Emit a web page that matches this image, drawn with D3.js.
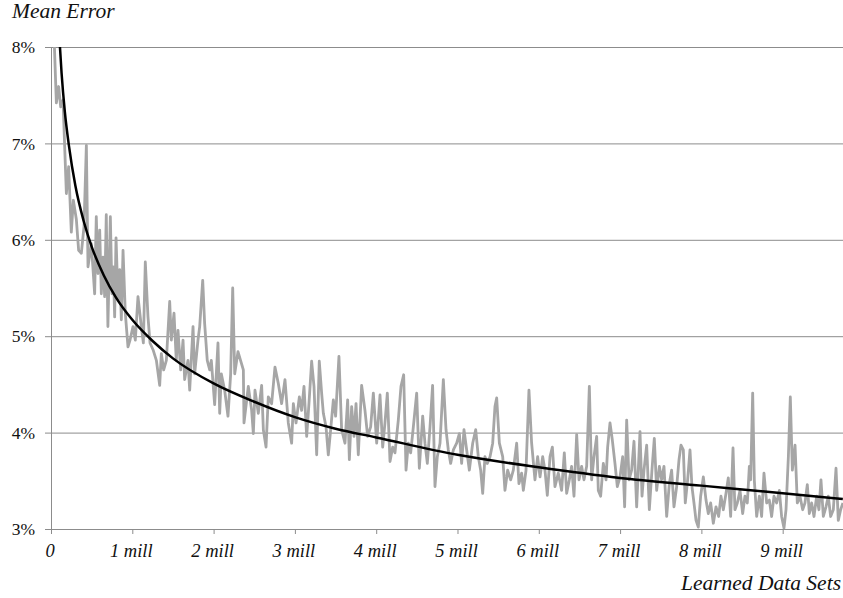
<!DOCTYPE html>
<html>
<head>
<meta charset="utf-8">
<script src="https://cdn.jsdelivr.net/npm/d3@7"></script>
<style>
  body { margin: 0; background: #fff; }
  svg text { font-family: "Liberation Serif", "Times New Roman", serif; fill: #111; }
</style>
</head>
<body>
<svg id="chart" width="843" height="598"></svg>
<script>
// learned data sets (millions) and measured mean error (%)
const sampleMill = [
  0.04, 0.066, 0.094, 0.119, 0.148, 0.168, 0.189, 0.217, 0.25, 0.275, 0.312, 0.34, 0.373, 0.406, 0.435, 0.455,
  0.496, 0.537, 0.557, 0.578, 0.599, 0.619, 0.64, 0.66, 0.68, 0.70, 0.73, 0.75, 0.766, 0.783, 0.80, 0.824,
  0.845, 0.865, 0.886, 0.914, 0.947, 0.972, 1.009, 1.037, 1.07, 1.111, 1.136, 1.16, 1.193, 1.218, 1.255, 1.296,
  1.337, 1.357, 1.386, 1.419, 1.46, 1.48, 1.513, 1.541, 1.562, 1.595, 1.624, 1.644, 1.685, 1.706, 1.747, 1.767,
  1.808, 1.829, 1.866, 1.89, 1.922, 1.952, 1.972, 2.013, 2.054, 2.075, 2.095, 2.136, 2.177, 2.21, 2.235, 2.26,
  2.30, 2.366, 2.374, 2.427, 2.468, 2.489, 2.509, 2.55, 2.591, 2.612, 2.645, 2.673, 2.714, 2.755, 2.796, 2.837,
  2.878, 2.919, 2.96, 2.981, 3.014, 3.055, 3.083, 3.112, 3.145, 3.173, 3.206, 3.235, 3.268, 3.30, 3.329, 3.35,
  3.383, 3.411, 3.44, 3.473, 3.501, 3.542, 3.575, 3.616, 3.649, 3.67, 3.698, 3.727, 3.752, 3.78, 3.821, 3.862,
  3.895, 3.932, 3.965, 4.006, 4.047, 4.08, 4.108, 4.137, 4.17, 4.203, 4.231, 4.272, 4.305, 4.338, 4.367, 4.395,
  4.424, 4.457, 4.498, 4.531, 4.572, 4.60, 4.629, 4.662, 4.694, 4.723, 4.752, 4.785, 4.826, 4.859, 4.887, 4.916,
  4.949, 4.99, 5.023, 5.051, 5.08, 5.113, 5.146, 5.187, 5.224, 5.256, 5.285, 5.31, 5.338, 5.367, 5.40, 5.433,
  5.461, 5.482, 5.515, 5.556, 5.584, 5.617, 5.654, 5.687, 5.728, 5.756, 5.789, 5.81, 5.843, 5.879, 5.912, 5.953,
  5.986, 6.015, 6.048, 6.076, 6.105, 6.138, 6.167, 6.199, 6.24, 6.281, 6.314, 6.343, 6.376, 6.404, 6.433, 6.466,
  6.495, 6.527, 6.556, 6.589, 6.622, 6.65, 6.679, 6.712, 6.732, 6.761, 6.794, 6.827, 6.847, 6.876, 6.905, 6.937,
  6.966, 6.999, 7.032, 7.056, 7.081, 7.11, 7.142, 7.171, 7.204, 7.245, 7.27, 7.294, 7.327, 7.36, 7.392, 7.421,
  7.45, 7.483, 7.511, 7.54, 7.573, 7.606, 7.634, 7.663, 7.696, 7.725, 7.749, 7.778, 7.802, 7.831, 7.86, 7.884,
  7.909, 7.934, 7.962, 7.991, 8.024, 8.057, 8.085, 8.114, 8.147, 8.18, 8.212, 8.241, 8.27, 8.303, 8.331, 8.36,
  8.389, 8.413, 8.442, 8.475, 8.508, 8.536, 8.565, 8.59, 8.606, 8.631, 8.651, 8.68, 8.713, 8.741, 8.77, 8.803,
  8.836, 8.864, 8.893, 8.926, 8.959, 8.987, 9.016, 9.041, 9.07, 9.094, 9.119, 9.152, 9.18, 9.213, 9.246, 9.274,
  9.303, 9.328, 9.356, 9.385, 9.418, 9.446, 9.471, 9.50, 9.533, 9.561, 9.59, 9.623, 9.656, 9.684, 9.713, 9.741
];
const meanError = [
  8.05, 7.42, 7.59, 7.38, 7.45, 6.97, 6.48, 6.76, 6.08, 6.41, 6.21, 5.89, 5.86, 6.14, 6.98, 5.72,
  5.96, 5.44, 6.24, 5.65, 6.10, 5.44, 5.82, 5.41, 6.26, 5.10, 6.24, 5.44, 5.72, 5.20, 6.02, 5.38,
  5.69, 5.17, 5.89, 5.24, 4.89, 4.96, 5.10, 4.96, 5.41, 5.10, 4.93, 5.77, 5.20, 4.93, 4.86, 4.75,
  4.49, 4.82, 4.65, 4.75, 5.36, 4.96, 5.24, 4.75, 5.06, 4.65, 4.96, 4.55, 4.75, 4.44, 5.10, 4.61,
  4.96, 5.10, 5.58, 5.13, 4.75, 4.65, 4.75, 4.29, 4.93, 4.20, 4.61, 4.44, 4.17, 4.61, 5.50, 4.61,
  4.84, 4.65, 4.10, 4.48, 4.23, 3.99, 4.44, 4.20, 4.49, 4.03, 3.85, 4.37, 4.30, 4.68, 4.51, 4.30,
  4.55, 4.10, 3.89, 4.30, 4.10, 4.37, 4.23, 4.48, 3.96, 4.30, 4.74, 4.48, 3.77, 4.74, 4.41, 4.20,
  4.06, 3.77, 4.03, 4.34, 4.17, 4.79, 4.03, 3.89, 4.34, 3.72, 4.27, 3.96, 4.30, 3.77, 4.49, 4.23,
  3.96, 4.06, 4.41, 3.89, 4.39, 3.85, 4.10, 4.41, 3.70, 3.85, 3.79, 4.13, 4.48, 4.60, 3.61, 3.89,
  3.79, 4.06, 4.41, 3.63, 4.17, 3.89, 3.68, 4.06, 4.49, 3.44, 3.75, 3.89, 4.55, 4.03, 3.82, 3.68,
  3.82, 3.89, 3.99, 3.68, 4.03, 3.82, 3.61, 3.89, 4.03, 3.75, 3.61, 3.37, 3.75, 3.68, 3.75, 3.89,
  4.27, 4.36, 3.89, 3.75, 3.40, 3.61, 3.51, 3.61, 3.89, 3.47, 3.58, 3.40, 3.61, 4.44, 3.89, 3.51,
  3.75, 3.54, 3.75, 3.61, 3.35, 3.75, 3.85, 3.44, 3.58, 3.40, 3.79, 3.37, 3.51, 3.65, 3.34, 3.98,
  3.51, 3.65, 3.51, 3.65, 4.48, 3.51, 3.75, 3.96, 3.40, 3.34, 3.68, 3.51, 3.85, 4.10, 3.92, 3.68,
  3.44, 3.54, 3.75, 3.23, 4.13, 3.51, 3.61, 3.91, 3.23, 4.01, 3.34, 3.61, 3.87, 3.20, 3.61, 3.94,
  3.40, 3.65, 3.51, 3.65, 3.13, 3.47, 3.61, 3.23, 3.44, 3.72, 3.87, 3.82, 3.27, 3.51, 3.82, 3.44,
  3.27, 3.09, 3.02, 3.34, 3.54, 3.30, 3.16, 3.27, 3.06, 3.23, 3.13, 3.34, 3.20, 3.37, 3.53, 3.13,
  3.84, 3.20, 3.27, 3.40, 3.16, 3.34, 3.27, 3.65, 3.51, 4.41, 3.51, 3.13, 3.34, 3.13, 3.58, 3.27,
  3.30, 3.13, 3.34, 3.27, 3.40, 3.13, 3.01, 3.20, 3.75, 4.37, 3.61, 3.87, 3.27, 3.34, 3.20, 3.27,
  3.46, 3.16, 3.27, 3.13, 3.34, 3.20, 3.51, 3.13, 3.23, 3.34, 3.13, 3.20, 3.63, 3.09, 3.20, 3.27
];

// fitted trend
const trendMill = [0.1, 0.13, 0.17, 0.22, 0.3, 0.4, 0.5, 0.65, 0.8, 1.0, 1.25, 1.5, 2.0, 2.5, 3.0, 3.5, 4.0, 5.0, 6.0, 7.0, 8.0, 9.0, 9.74];
const trendError = [8.14, 7.73, 7.33, 6.98, 6.56, 6.2, 5.93, 5.63, 5.4, 5.17, 4.95, 4.77, 4.51, 4.32, 4.16, 4.04, 3.95, 3.77, 3.64, 3.53, 3.45, 3.37, 3.31];

const yTicks = [3, 4, 5, 6, 7, 8];
const xTicks = [0, 1, 2, 3, 4, 5, 6, 7, 8, 9];
const xTickLabels = ["0", "1 mill", "2 mill", "3 mill", "4 mill", "5 mill", "6 mill", "7 mill", "8 mill", "9 mill"];

const svg = d3.select("#chart");
const margin = { top: 47, right: 0, bottom: 69, left: 51 };
const width = 843 - margin.left - margin.right;
const height = 598 - margin.top - margin.bottom;
const gridColor = "#8c8c8c";

const x = d3.scaleLinear().domain([0, 9.742]).range([0, width]);
const y = d3.scaleLinear().domain([3, 8]).range([height, 0]);

const g = svg.append("g").attr("transform", `translate(${margin.left},${margin.top})`);

svg.append("defs").append("clipPath").attr("id", "plot-clip")
  .append("rect").attr("x", 0).attr("y", 0).attr("width", width).attr("height", height);

// gridlines
g.append("g")
  .call(d3.axisLeft(y).tickValues(yTicks).tickSize(-width).tickFormat(""))
  .call((sel) => sel.select(".domain").remove())
  .selectAll("line").attr("stroke", gridColor).attr("stroke-width", 1);

// y axis
const yAxis = g.append("g")
  .call(d3.axisLeft(y).tickValues(yTicks).tickSize(6).tickPadding(10).tickSizeOuter(0).tickFormat((d) => d + "%"));
yAxis.select(".domain").attr("stroke", gridColor);
yAxis.selectAll("line").attr("stroke", gridColor);
yAxis.selectAll("text").attr("font-size", 17.5).attr("fill", "#111");

// x axis
const xAxis = g.append("g")
  .attr("transform", `translate(0,${height})`)
  .call(d3.axisBottom(x).tickValues(xTicks).tickSize(5).tickSizeOuter(0).tickFormat((d, i) => xTickLabels[i]));
xAxis.select(".domain").attr("stroke", gridColor);
xAxis.selectAll("line").attr("stroke", gridColor);
xAxis.selectAll("text")
  .attr("font-size", 18.5)
  .attr("font-style", "italic")
  .attr("fill", "#111")
  .attr("y", 28).attr("dy", 0).attr("dx", -1.5);

const plot = g.append("g").attr("clip-path", "url(#plot-clip)");

const line = d3.line()
  .x((d) => x(d[0]))
  .y((d) => y(d[1]));

plot.append("path")
  .datum(d3.zip(sampleMill, meanError))
  .attr("fill", "none")
  .attr("stroke", "#a6a6a6")
  .attr("stroke-width", 2.8)
  .attr("stroke-linejoin", "round")
  .attr("d", line);

plot.append("path")
  .datum(d3.zip(trendMill, trendError))
  .attr("fill", "none")
  .attr("stroke", "#000")
  .attr("stroke-width", 2.5)
  .attr("d", line.curve(d3.curveMonotoneX));

// axis titles
svg.append("text")
  .attr("x", 12).attr("y", 18)
  .attr("font-size", 21.5).attr("font-style", "italic")
  .text("Mean Error");

svg.append("text")
  .attr("x", 841).attr("y", 590)
  .attr("text-anchor", "end")
  .attr("font-size", 21.5).attr("font-style", "italic")
  .text("Learned Data Sets");
</script>
</body>
</html>
